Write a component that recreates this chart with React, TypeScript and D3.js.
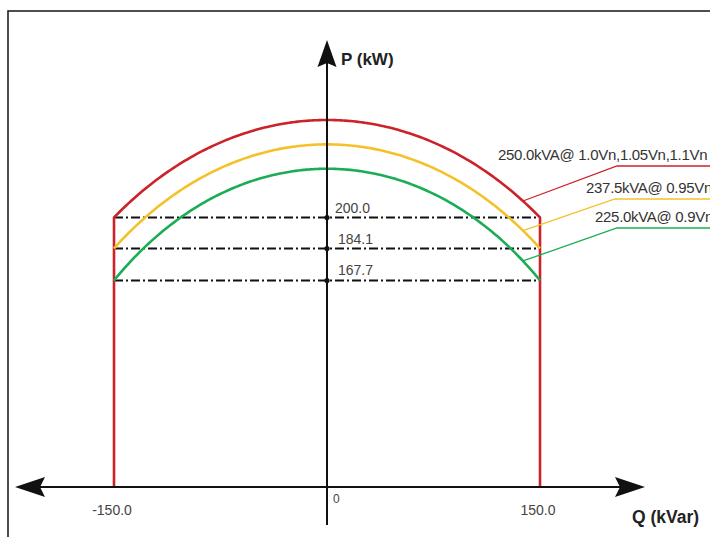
import React from "react";
import * as d3 from "d3";

// ---- data ----
const seriesLabels = ["250.0kVA@ 1.0Vn,1.05Vn,1.1Vn", "237.5kVA@ 0.95Vn", "225.0kVA@ 0.9Vn"];
const apparentPower = [250, 237.5, 225]; // kVA
const seriesColors = ["#cc2229", "#f5c12b", "#1bad55"];
const qLimits = [-150, 150]; // kVar
const pLevels = [200.0, 184.1, 167.7]; // kW
const pLevelLabels = ["200.0", "184.1", "167.7"];
const qTickValues = [-150, 0, 150];
const qTickLabels = ["-150.0", "0", "150.0"];
const leaderQ = 138;

const W = 710;
const H = 537;

export default function App() {
  const x = d3.scaleLinear().domain([-150, 150]).range([114, 540]);
  const y = d3.scaleLinear().domain([200, 250]).range([217.5, 120]);
  const axisY = 487;
  const axisX = x(0);

  const line = d3
    .line<[number, number]>()
    .x((d) => x(d[0]))
    .y((d) => y(d[1]))
    .curve(d3.curveMonotoneX);

  const qs = d3.range(qLimits[0], qLimits[1] + 0.001, 2);

  const arcPath = (S: number) => line(qs.map((q) => [q, Math.sqrt(S * S - q * q)] as [number, number])) as string;

  const redEdgeP = Math.sqrt(apparentPower[0] ** 2 - 150 ** 2);

  // label layout (pixels)
  const labelLayout = [
    { elbowX: 617, lineY: 166, textX: 498 },
    { elbowX: 615, lineY: 199, textX: 586 },
    { elbowX: 617, lineY: 228, textX: 595 },
  ];

  const font = "'Liberation Sans', Arial, sans-serif";

  return (
    <svg width={W} height={H} style={{ position: "absolute", left: 0, top: 0, background: "#fff" }}>
      <rect x={0} y={0} width={W} height={H} fill="#fff" />
      <rect x={8} y={11} width={800} height={700} fill="none" stroke="#222" strokeWidth={1.6} />

      {/* dashed reference lines */}
      {pLevels.map((p, i) => (
        <g key={"lvl" + i}>
          <line x1={x(qLimits[0])} x2={x(qLimits[1])} y1={y(p)} y2={y(p)} stroke="#111" strokeWidth={2} strokeDasharray="9,3,2,3" />
        </g>
      ))}

      {/* curves */}
      <path
        d={`M${x(qLimits[0])},${axisY}L${x(qLimits[0])},${y(redEdgeP)}` + arcPath(apparentPower[0]).replace(/^M/, "L") + `L${x(qLimits[1])},${axisY}`}
        fill="none"
        stroke={seriesColors[0]}
        strokeWidth={2.6}
        strokeLinejoin="round"
      />
      {apparentPower.slice(1).map((S, i) => (
        <path key={"arc" + i} d={arcPath(S)} fill="none" stroke={seriesColors[i + 1]} strokeWidth={2.6} />
      ))}

      {/* axes */}
      <line x1={40} x2={620} y1={axisY} y2={axisY} stroke="#111" strokeWidth={2} />
      <path d={`M15,${axisY}L45,${axisY - 10}L40,${axisY}L45,${axisY + 10}Z`} fill="#111" />
      <path d={`M645,${axisY}L615,${axisY - 10}L620,${axisY}L615,${axisY + 10}Z`} fill="#111" />
      <line x1={axisX} x2={axisX} y1={62} y2={525} stroke="#111" strokeWidth={2} />
      <path d={`M${axisX},40L${axisX - 9.5},67L${axisX},63L${axisX + 9.5},67Z`} fill="#111" />

      {/* dots at axis */}
      {pLevels.map((p, i) => (
        <circle key={"dot" + i} cx={axisX} cy={y(p)} r={2.6} fill="#111" />
      ))}

      {/* level labels */}
      {pLevelLabels.map((t, i) => (
        <text key={"lt" + i} x={i === 0 ? 335 : 338} y={y(pLevels[i]) - 5} fontFamily={font} fontSize={14} fill="#444">
          {t}
        </text>
      ))}

      {/* q tick labels */}
      {qTickValues.map((q, i) =>
        q === 0 ? (
          <text key={"qt" + i} x={axisX + 6} y={503} fontFamily={font} fontSize={12} fill="#444">
            {qTickLabels[i]}
          </text>
        ) : (
          <text key={"qt" + i} x={x(q) - 2} y={515} textAnchor="middle" fontFamily={font} fontSize={14} fill="#444">
            {qTickLabels[i]}
          </text>
        )
      )}

      {/* axis titles */}
      <text x={341} y={65} fontFamily={font} fontSize={17} fontWeight="bold" fill="#222">
        P (kW)
      </text>
      <text x={632} y={523} fontFamily={font} fontSize={17.5} fontWeight="bold" fill="#222">
        Q (kVar)
      </text>

      {/* leader lines and series labels */}
      {apparentPower.map((S, i) => {
        const L = labelLayout[i];
        const sx = x(leaderQ);
        const sy = y(Math.sqrt(S * S - leaderQ * leaderQ));
        return (
          <g key={"lab" + i}>
            <polyline
              points={`${sx},${sy} ${L.elbowX},${L.lineY} ${W + 5},${L.lineY}`}
              fill="none"
              stroke={seriesColors[i]}
              strokeWidth={1.3}
            />
            <text x={L.textX} y={L.lineY - 6} fontFamily={font} fontSize={15} letterSpacing={-0.3} fill="#333">
              {seriesLabels[i]}
            </text>
          </g>
        );
      })}
    </svg>
  );
}
